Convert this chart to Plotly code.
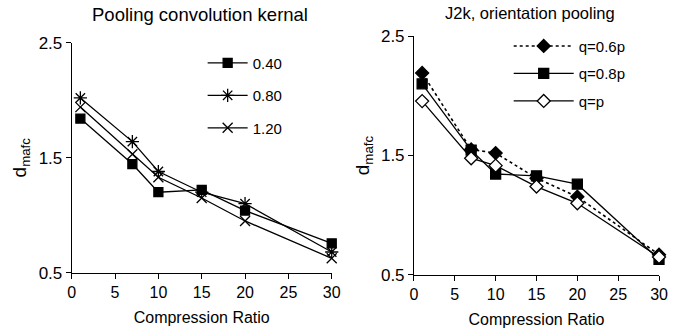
import plotly.graph_objects as go

ratios = [1, 7, 10, 15, 20, 30]

# Left panel: Pooling convolution kernel
k040 = [1.84, 1.445, 1.20, 1.22, 1.04, 0.755]
k080 = [2.02, 1.64, 1.38, 1.20, 1.10, 0.68]
k120 = [1.94, 1.53, 1.33, 1.15, 0.95, 0.625]

# Right panel: J2k, orientation pooling
q06 = [2.19, 1.55, 1.52, 1.31, 1.155, 0.67]
q08 = [2.10, 1.545, 1.345, 1.33, 1.26, 0.63]
q10 = [1.955, 1.477, 1.415, 1.24, 1.10, 0.65]

font = "Liberation Sans, Arial, sans-serif"
fig = go.Figure()

def add(x, y, name, sym, xa, ya, leg, dash="solid", fill="black", size=9, width=1.3):
    fig.add_trace(go.Scatter(
        x=x, y=y, name=name, mode="lines+markers", xaxis=xa, yaxis=ya,
        line=dict(color="black", width=width, dash=dash),
        marker=dict(symbol=sym, size=size, color=fill,
                    line=dict(color="black", width=1.3)),
        cliponaxis=False, legend=leg, legendgroup=name))

add(ratios, k040, "0.40", "square", "x", "y", "legend", size=9)
add(ratios, k080, "0.80", "asterisk", "x", "y", "legend", size=11)
add(ratios, k120, "1.20", "x-thin", "x", "y", "legend", size=10)

add(ratios, q06, "q=0.6p", "diamond", "x2", "y2", "legend2", dash="3px,3px", size=10, width=1.6)
add(ratios, q08, "q=0.8p", "square", "x2", "y2", "legend2", size=10)
add(ratios, q10, "q=p", "diamond", "x2", "y2", "legend2", fill="white", size=10)

xax = dict(range=[0, 30], tickmode="linear", tick0=0, dtick=5, showline=True,
           linecolor="black", linewidth=1, ticks="outside", ticklen=5,
           tickcolor="black", showgrid=False, zeroline=False, automargin=False,
           tickfont=dict(size=16, family=font, color="black"),
           title=dict(text="Compression Ratio", font=dict(size=16, family=font, color="black"), standoff=11))
yax = dict(range=[0.5, 2.5], tickmode="linear", tick0=0.5, dtick=1, showline=True,
           linecolor="black", linewidth=1, ticks="outside", ticklen=5,
           tickcolor="black", showgrid=False, zeroline=False, automargin=False,
           tickfont=dict(size=17, family=font, color="black"),
           title=dict(text="d<sub>mafc</sub>", font=dict(size=19, family=font, color="black"), standoff=6))

fig.update_layout(
    width=694, height=330, margin=dict(l=0, r=0, t=0, b=0, autoexpand=False),
    paper_bgcolor="white", plot_bgcolor="white",
    xaxis=dict(xax, domain=[0.1033, 0.478], anchor="y"),
    yaxis=dict(yax, domain=[0.1736, 0.8706], anchor="x"),
    xaxis2=dict(xax, domain=[0.5965, 0.9496], anchor="y2"),
    yaxis2=dict(yax, domain=[0.1667, 0.8909], anchor="x2"),
    legend=dict(x=0.292, y=0.859, xanchor="left", yanchor="top", bgcolor="rgba(0,0,0,0)",
                font=dict(size=15, family=font, color="black"), tracegroupgap=10,
                itemwidth=40),
    legend2=dict(x=0.733, y=0.91, xanchor="left", yanchor="top", bgcolor="rgba(0,0,0,0)",
                 font=dict(size=15, family=font, color="black"), tracegroupgap=5,
                 itemwidth=60),
    annotations=[
        dict(text="Pooling convolution kernal", x=0.288, y=0.955, xref="paper", yref="paper",
             xanchor="center", yanchor="middle",
             showarrow=False, font=dict(size=18.5, family=font, color="black")),
        dict(text="J2k, orientation pooling", x=0.764, y=0.96, xref="paper", yref="paper",
             xanchor="center", yanchor="middle",
             showarrow=False, font=dict(size=16.5, family=font, color="black")),
    ],
)

fig.write_html("out.html")
